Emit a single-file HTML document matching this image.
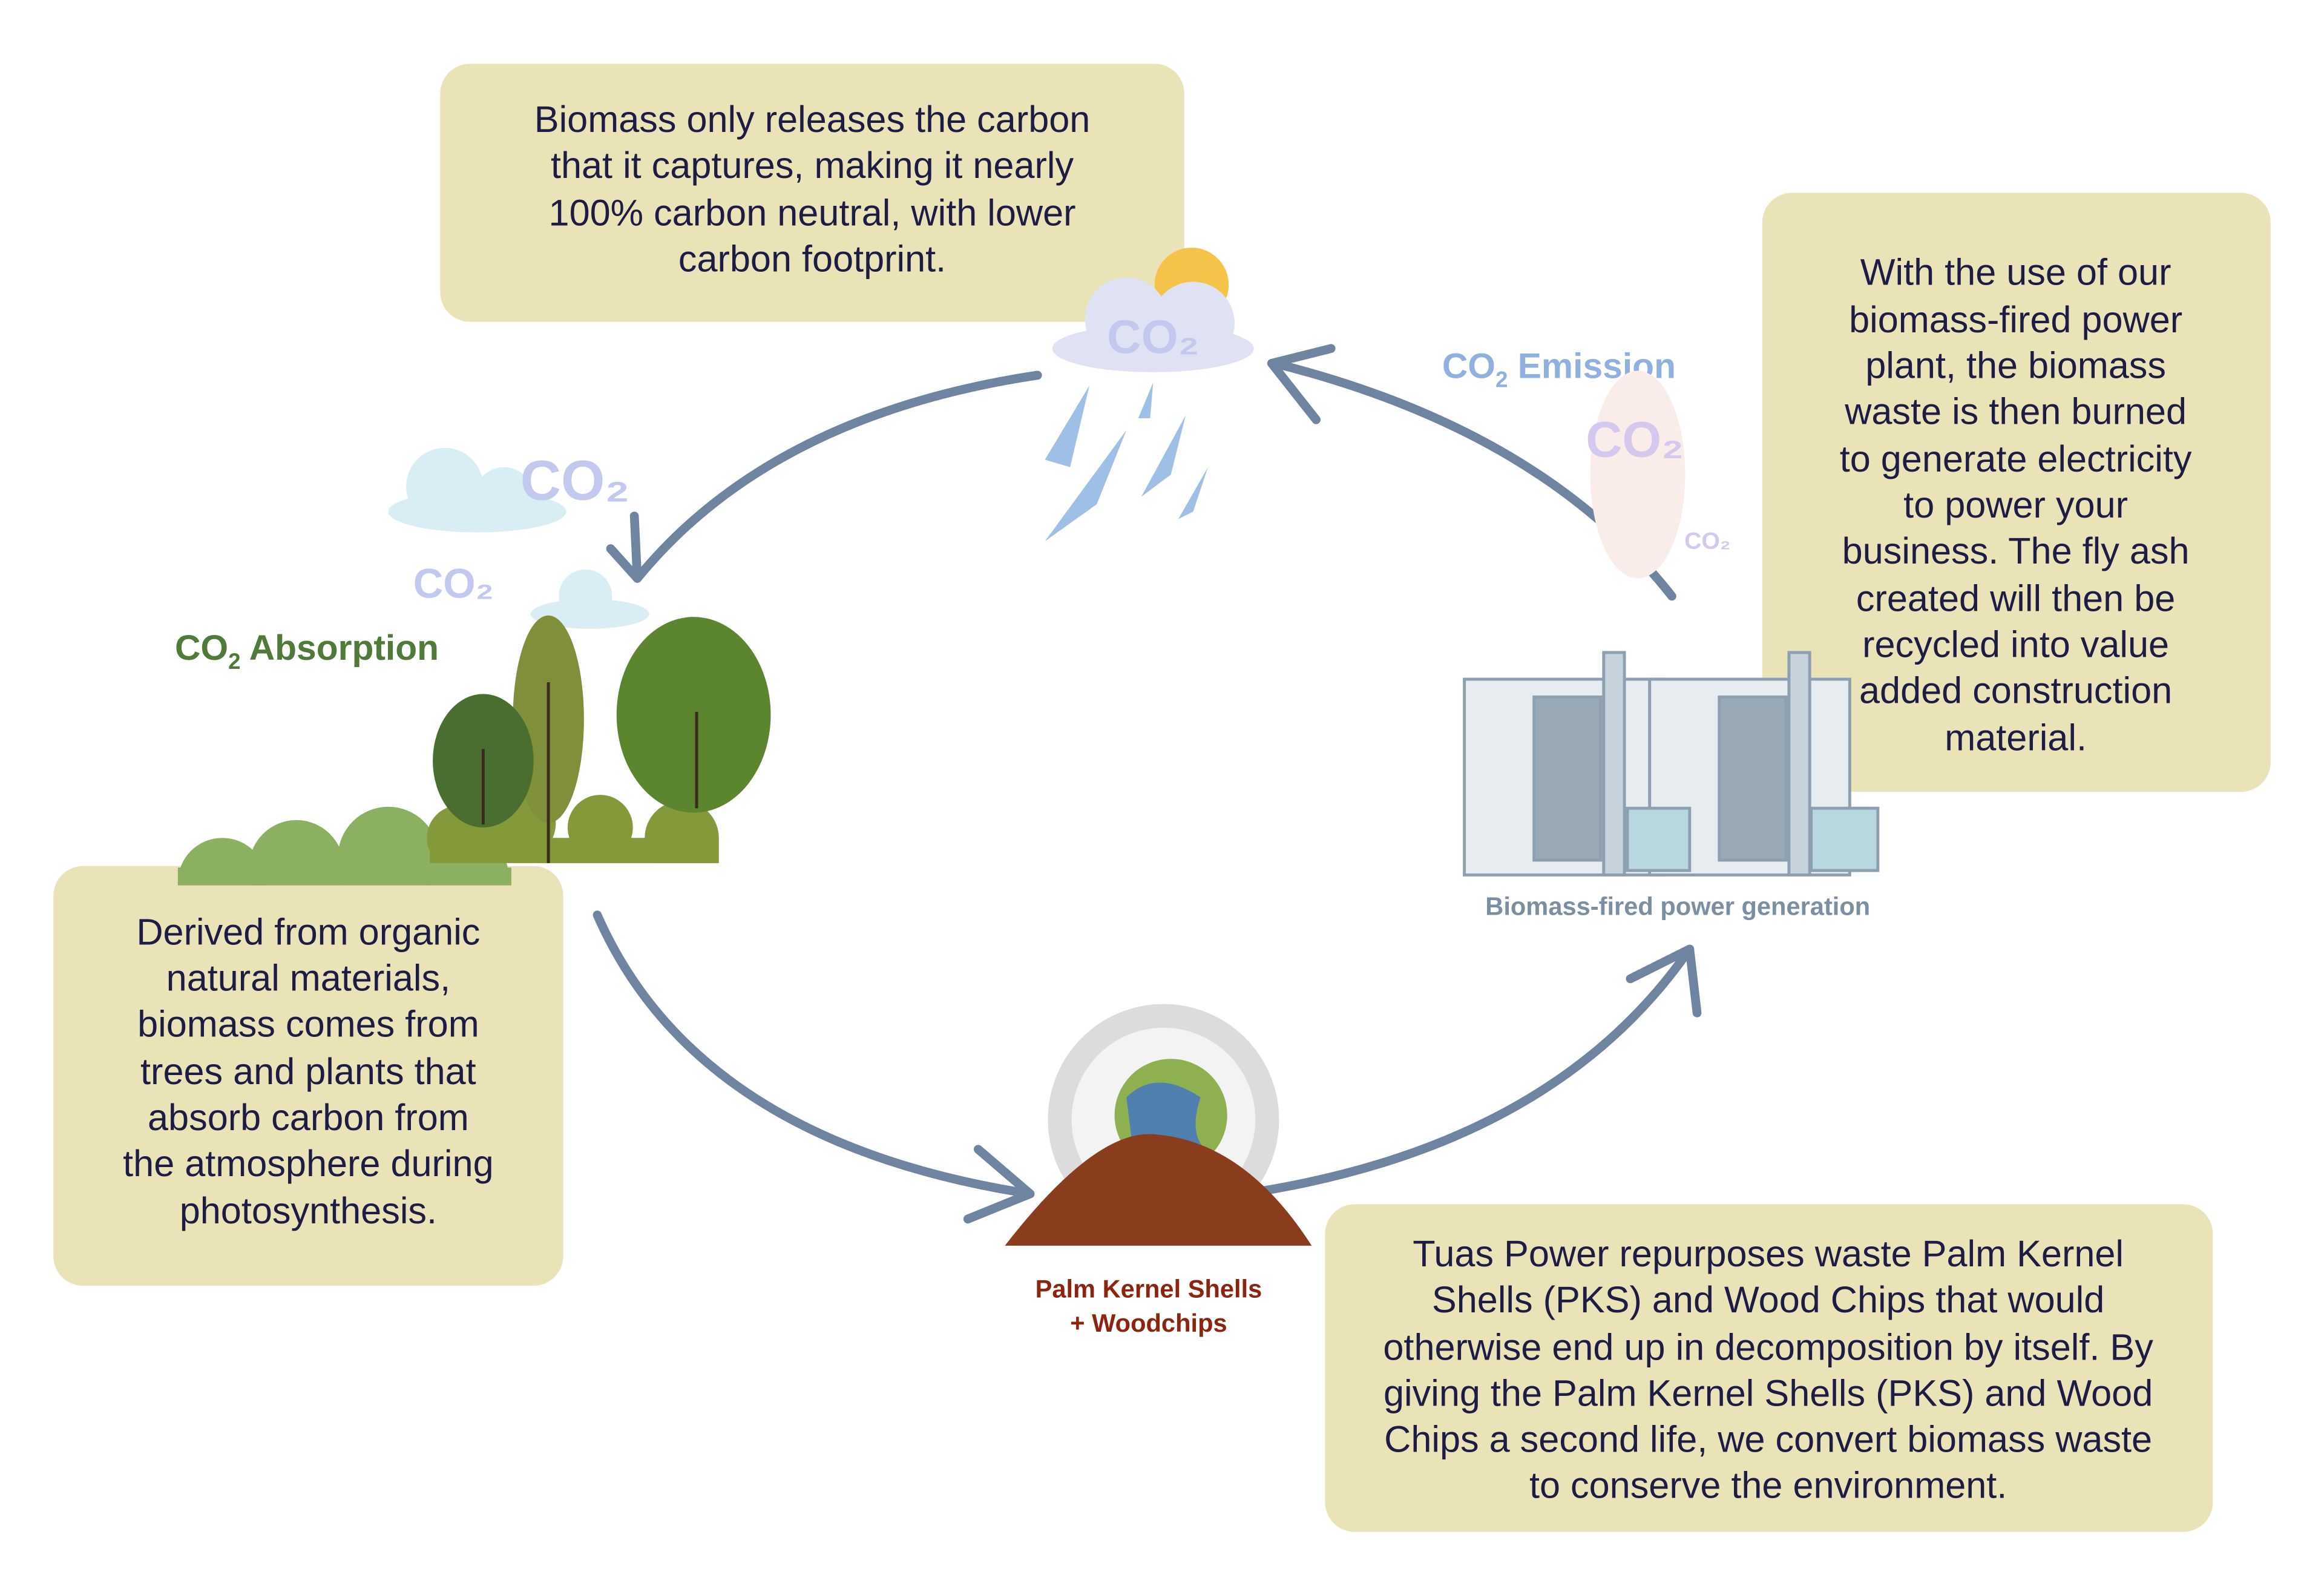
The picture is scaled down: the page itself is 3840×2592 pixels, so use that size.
<!DOCTYPE html>
<html><head><meta charset="utf-8"><style>
html,body{margin:0;padding:0;background:#fff}
svg{display:block}
text{font-family:"Liberation Sans",sans-serif}
</style></head><body>
<svg width="3840" height="2592" viewBox="0 0 1568 1058" preserveAspectRatio="none" xmlns="http://www.w3.org/2000/svg">
<defs>
<clipPath id="c1"><rect x="0" y="0" width="1568" height="597"/></clipPath>
<clipPath id="c2"><rect x="0" y="0" width="1568" height="582"/></clipPath>
</defs>
<rect width="1568" height="1058" fill="#fff"/>
<!-- boxes -->
<rect x="297" y="43" width="502" height="174" rx="20" fill="#ebe3b8"/>
<rect x="1189" y="130" width="343" height="404" rx="20" fill="#ebe3b8"/>
<rect x="36" y="584" width="344" height="283" rx="20" fill="#ebe3b8"/>
<rect x="894" y="812" width="599" height="221" rx="20" fill="#ebe3b8"/>
<g fill="#1c1c44" font-size="25" text-anchor="middle">
<text x="548" y="89">Biomass only releases the carbon</text>
<text x="548" y="120">that it captures, making it nearly</text>
<text x="548" y="152">100% carbon neutral, with lower</text>
<text x="548" y="183">carbon footprint.</text>
<text x="1360" y="192">With the use of our</text>
<text x="1360" y="224">biomass-fired power</text>
<text x="1360" y="255">plant, the biomass</text>
<text x="1360" y="286">waste is then burned</text>
<text x="1360" y="318">to generate electricity</text>
<text x="1360" y="349">to power your</text>
<text x="1360" y="380">business. The fly ash</text>
<text x="1360" y="412">created will then be</text>
<text x="1360" y="443">recycled into value</text>
<text x="1360" y="474">added construction</text>
<text x="1360" y="506">material.</text>
<text x="208" y="637">Derived from organic</text>
<text x="208" y="668">natural materials,</text>
<text x="208" y="699">biomass comes from</text>
<text x="208" y="731">trees and plants that</text>
<text x="208" y="762">absorb carbon from</text>
<text x="208" y="793">the atmosphere during</text>
<text x="208" y="825">photosynthesis.</text>
<text x="1193" y="854">Tuas Power repurposes waste Palm Kernel</text>
<text x="1193" y="885">Shells (PKS) and Wood Chips that would</text>
<text x="1193" y="917">otherwise end up in decomposition by itself. By</text>
<text x="1193" y="948">giving the Palm Kernel Shells (PKS) and Wood</text>
<text x="1193" y="979">Chips a second life, we convert biomass waste</text>
<text x="1193" y="1010">to conserve the environment.</text>
</g>
<!-- arrows -->
<g fill="none" stroke="#6e84a0" stroke-width="6" stroke-linecap="round" stroke-linejoin="round">
<path d="M700 253 Q520 280 430 390"/><path d="M412 370 L430 390 L428 348"/>
<path d="M1128 402 Q1040 290 860 245"/><path d="M898 235 L858 245 L888 283"/>
<path d="M403 617 Q470 770 695 805"/><path d="M660 775 L695 805 L653 822"/>
<path d="M852 803 Q1050 770 1140 640"/><path d="M1100 660 L1140 640 L1145 683"/>
</g>
<!-- rain cloud -->
<circle cx="804" cy="192" r="25" fill="#f6c34a"/>
<ellipse cx="778" cy="235" rx="68" ry="16" fill="#dfe2f2"/>
<circle cx="760" cy="215" r="28" fill="#dfe2f2"/><circle cx="805" cy="218" r="28" fill="#dfe2f2"/>
<text x="778" y="238" font-size="32" font-weight="bold" fill="#c2c8ee" text-anchor="middle">CO₂</text>
<g fill="#9fc0e6"><polygon points="735,260 705,310 722,315"/><polygon points="760,290 705,365 740,340"/><polygon points="778,258 768,282 776,282"/><polygon points="800,280 770,335 790,320"/><polygon points="815,315 795,350 805,345"/></g>
<!-- left clouds -->
<ellipse cx="322" cy="345" rx="60" ry="14" fill="#d9edf4"/><circle cx="300" cy="328" r="26" fill="#d9edf4"/><circle cx="340" cy="335" r="20" fill="#d9edf4"/>
<text x="388" y="337" font-size="38" font-weight="bold" fill="#c2c8ee" text-anchor="middle">CO₂</text>
<ellipse cx="398" cy="414" rx="40" ry="10" fill="#d9edf4"/><circle cx="395" cy="402" r="18" fill="#d9edf4"/>
<text x="306" y="403" font-size="28" font-weight="bold" fill="#c2c8ee" text-anchor="middle">CO₂</text>
<text x="118" y="445" font-size="24" font-weight="bold" fill="#4f7a3a">CO<tspan font-size="15" dy="6">2</tspan><tspan dy="-6"> Absorption</tspan></text>
<!-- trees -->
<g clip-path="url(#c1)" fill="#8bb060">
<circle cx="150" cy="595" r="30"/><circle cx="200" cy="585" r="32"/><circle cx="262" cy="578" r="34"/><circle cx="315" cy="590" r="28"/><rect x="120" y="585" width="225" height="15"/>
</g>
<g clip-path="url(#c2)" fill="#849a3a">
<circle cx="310" cy="565" r="22"/><circle cx="350" cy="555" r="25"/><circle cx="405" cy="558" r="22"/><circle cx="460" cy="565" r="25"/><rect x="290" y="565" width="195" height="20"/>
</g>
<ellipse cx="370" cy="485" rx="24" ry="70" fill="#7f8f3a"/>
<ellipse cx="326" cy="513" rx="34" ry="45" fill="#4a6e30"/>
<ellipse cx="468" cy="482" rx="52" ry="66" fill="#5c8530"/>
<g stroke="#3a2a20" stroke-width="2" fill="none"><path d="M470 545V480M370 582V460M326 556V505"/></g>
<!-- emission -->
<text x="973" y="255" font-size="24" font-weight="bold" fill="#8fb0e0">CO<tspan font-size="15" dy="6">2</tspan><tspan dy="-6"> Emission</tspan></text>
<ellipse cx="1105" cy="320" rx="32" ry="70" fill="#faece8"/>
<text x="1103" y="308" font-size="34" font-weight="bold" fill="#d5c8ee" text-anchor="middle">CO₂</text>
<text x="1152" y="370" font-size="16" font-weight="bold" fill="#d5c8ee" text-anchor="middle">CO₂</text>
<!-- factory -->
<g fill="#c6d2dc" stroke="#8ca0b2" stroke-width="2">
<rect x="988" y="458" width="135" height="132" fill="#e6ecf0"/>
<rect x="1113" y="458" width="135" height="132" fill="#e6ecf0"/>
<rect x="1082" y="440" width="14" height="150"/><rect x="1207" y="440" width="14" height="150"/>
<rect x="1035" y="470" width="45" height="110" fill="#9aa9b6"/><rect x="1160" y="470" width="45" height="110" fill="#9aa9b6"/>
<rect x="1098" y="545" width="42" height="42" fill="#b8d8e0"/><rect x="1222" y="545" width="45" height="42" fill="#b8d8e0"/>
</g>
<text x="1132" y="617" font-size="17" font-weight="bold" fill="#7a8ea4" text-anchor="middle">Biomass-fired power generation</text>
<!-- gear and pile -->
<circle cx="785" cy="755" r="78" fill="#dcdcdc"/><circle cx="785" cy="755" r="62" fill="#f3f3f3"/>
<circle cx="790" cy="752" r="38" fill="#8fb050"/><path d="M760 740q20-20 50 0q-10 30 10 40q-30 10-55 0z" fill="#4f80b0"/>
<path d="M678 840 Q740 760 780 765 Q840 770 885 840 Z" fill="#8a3d1c"/>
<text x="775" y="875" font-size="17" font-weight="bold" fill="#8c2410" text-anchor="middle">Palm Kernel Shells</text>
<text x="775" y="898" font-size="17" font-weight="bold" fill="#8c2410" text-anchor="middle">+ Woodchips</text>
</svg>
</body></html>
